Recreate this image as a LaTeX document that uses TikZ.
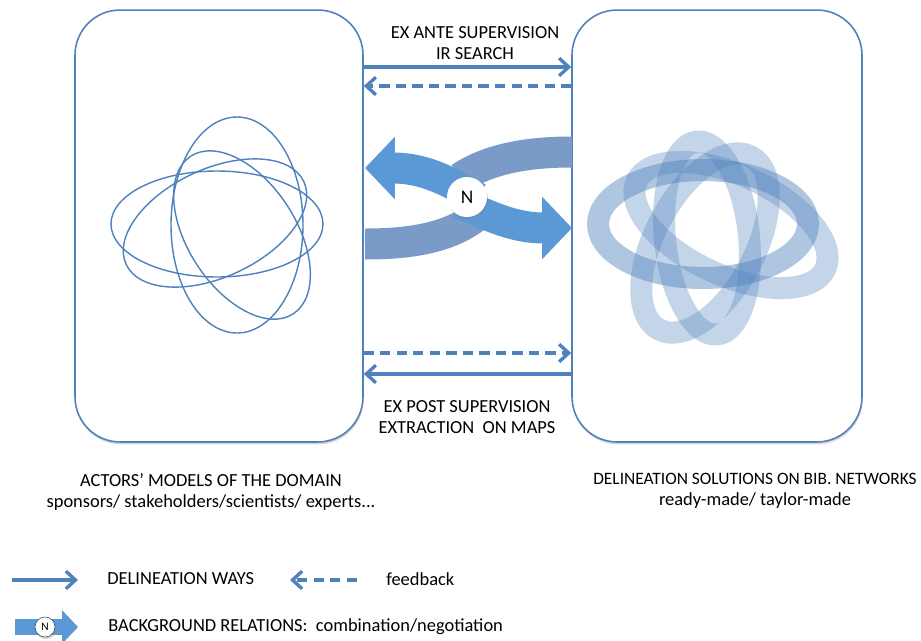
\documentclass[tikz,border=0pt]{standalone}
\usepackage{fontspec}
\setmainfont{Carlito}
\usepackage{tikz}
\usetikzlibrary{arrows.meta, shadows}
\definecolor{lineblue}{RGB}{79,129,189}
\definecolor{frontblue}{RGB}{90,152,214}
\definecolor{backblue}{RGB}{122,154,200}
\tikzset{
    panel/.style={draw=lineblue, line width=0.9pt, fill=white, rounded corners=0.9cm,
        minimum width=5.76cm, minimum height=8.64cm,
        drop shadow={shadow xshift=0.4pt, shadow yshift=-1.4pt, opacity=0.3}},
    txt/.style={inner sep=0pt, align=center, font=\fontsize{10.5}{12}\selectfont},
    way/.style={draw=lineblue, line width=1.9pt, -{Straight Barb[length=5.5pt, width=10pt]}},
    feedback/.style={way, dash pattern=on 5.8pt off 3.6pt},
    ring/.style={draw=lineblue, line width=0.8pt},
    band/.style={draw=lineblue, line width=0.44cm, draw opacity=0.33},
    flowback/.style={draw=backblue, line width=0.62cm},
    flowfront/.style={draw=frontblue, line width=0.62cm, -{Triangle[length=0.6cm, width=1.22cm]}},
    negot/.style={circle, fill=white, minimum size=0.8cm, inner sep=0pt,
        font=\fontsize{11}{12}\selectfont,
        drop shadow={shadow xshift=0.6pt, shadow yshift=-1.2pt, opacity=0.35}}
}

\begin{document}
\begin{tikzpicture}[x=0.02cm, y=-0.02cm]
    \useasboundingbox (0,0) rectangle (921,640);

    % the two domains
    \node[panel] (actors) at (219,226) {};
    \node[panel, minimum width=5.8cm] (solutions) at (717,226) {};

    % actors' models
    \draw[ring] (217,224) ellipse (106 and 53);
    \draw[ring] (237,225) ellipse (66 and 108);
    \draw[ring, rotate around={-57:(242,235)}] (242,235) ellipse (94 and 54);
    \draw[ring, rotate around={25:(215,223)}] (215,223) ellipse (98 and 54);

    % delineation solutions
    \draw[band, draw opacity=0.45] (703,224) ellipse (105 and 54);
    \draw[band, rotate around={6:(707,238)}] (707,238) ellipse (42 and 97);
    \draw[band, rotate around={-25:(731,225)}] (731,225) ellipse (104 and 50);
    \draw[band, rotate around={62:(705,243)}] (705,243) ellipse (98 and 50);

    % supervision arrows
    \coordinate (ante) at (0,67);
    \coordinate (antefeed) at (0,86);
    \coordinate (postfeed) at (0,353);
    \coordinate (post) at (0,374);
    \draw[way] (actors.east |- ante) -- (solutions.west |- ante);
    \draw[feedback] (solutions.west |- antefeed) -- (actors.east |- antefeed);
    \draw[feedback] (actors.east |- postfeed) -- (solutions.west |- postfeed);
    \draw[way] (solutions.west |- post) -- (actors.east |- post);

    \node[txt] (antetxt) at (475,43) {EX ANTE SUPERVISION\\IR SEARCH};
    \node[txt] (posttxt) at (467,417) {EX POST SUPERVISION\\EXTRACTION\ \ ON MAPS};

    % background relations
    \draw[flowback] (572,152) .. controls (530,152) and (490,158) .. (460,178);
    \draw[flowback] (365,244) .. controls (410,244) and (450,238) .. (478,215);
    \draw[flowfront] (478,198) .. controls (450,182) and (425,168) .. (365,168);
    \draw[flowfront] (458,203) .. controls (485,213) and (510,228) .. (572,228);
    \node[negot] (neg) at (467,197) {N};

    \node[txt] (actorstxt) at (211,492)
        {ACTORS’ MODELS OF THE DOMAIN\\sponsors/ stakeholders/scientists/ experts...};
    \node[txt] (solutionstxt) at (755,491)
        {{\fontsize{9.9}{12}\selectfont DELINEATION SOLUTIONS ON BIB. NETWORKS}\\ready-made/ taylor-made};

    % legend
    \draw[way] (12,580) -- (78,580);
    \node[txt, anchor=west] (waystxt) at (107,579) {DELINEATION WAYS};
    \draw[feedback] (357,580) -- (290,580);
    \node[txt, anchor=west] (feedtxt) at (386,579) {feedback};
    \draw[flowfront, line width=0.32cm, -{Triangle[length=0.32cm, width=0.66cm]}] (15,627) -- (78,627);
    \node[negot, minimum size=0.4cm, draw=lineblue!60!black, line width=0.3pt,
        font=\fontsize{6.5}{7}\selectfont] (negleg) at (45,627) {N};
    \node[txt, anchor=west] (backtxt) at (108,627) {BACKGROUND RELATIONS:\ \ combination/negotiation};
\end{tikzpicture}
\end{document}
